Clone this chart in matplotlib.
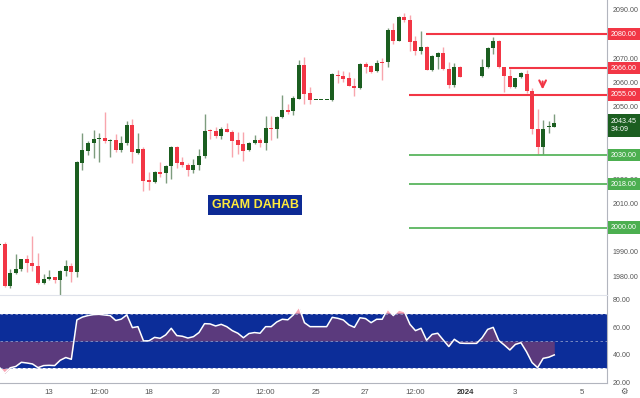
import numpy as np
import matplotlib
matplotlib.use("Agg")
import matplotlib.pyplot as plt
import matplotlib.transforms as mtransforms

plt.rcParams["font.family"] = ["Liberation Sans", "DejaVu Sans"]

# 4h candles
opens = [1993.0, 1993.3, 1976.1, 1981.2, 1982.9, 1987.1, 1985.6, 1984.2, 1977.3, 1978.7,
         1979.6, 1978.3, 1982.1, 1984.3, 1981.7, 2026.9, 2031.9, 2035.2, 2036.7, 2037.0,
         2036.0, 2036.3, 2032.1, 2035.2, 2042.5, 2031.0, 2032.4, 2019.8, 2019.1, 2022.9,
         2022.5, 2025.7, 2033.3, 2027.2, 2025.8, 2023.9, 2025.8, 2029.7, 2040.4, 2039.9,
         2038.1, 2041.0, 2039.7, 2036.3, 2034.6, 2032.1, 2035.2, 2036.3, 2035.2, 2041.4,
         2040.9, 2045.6, 2048.7, 2048.3, 2053.2, 2067.3, 2055.6, 2052.8, 2052.8, 2052.8,
         2052.7, 2063.1, 2062.7, 2061.9, 2058.7, 2057.6, 2067.7, 2066.8, 2064.8, 2068.4,
         2068.4, 2081.9, 2077.3, 2087.1, 2085.9, 2077.2, 2073.1, 2074.8, 2065.2, 2070.7,
         2072.1, 2065.6, 2059.0, 2066.6, 2062.6, 2062.6, 2062.6, 2062.6, 2066.3, 2074.2,
         2077.3, 2066.3, 2062.7, 2058.3, 2062.4, 2063.5, 2056.7, 2040.7, 2033.3, 2041.5,
         2041.8]
highs = [1993.5, 1994.1, 1982.9, 1989.0, 1987.1, 1988.8, 1996.6, 1989.5, 1980.9, 1982.6,
         1979.8, 1982.4, 1986.7, 1985.5, 2027.6, 2039.3, 2036.0, 2040.4, 2039.3, 2047.9,
         2036.5, 2038.6, 2037.7, 2044.1, 2044.8, 2039.0, 2033.5, 2023.2, 2023.3, 2027.2,
         2026.0, 2033.6, 2033.6, 2029.1, 2026.6, 2028.3, 2032.4, 2047.0, 2040.6, 2041.5,
         2041.5, 2043.4, 2040.4, 2039.5, 2039.7, 2035.6, 2038.3, 2037.1, 2046.2, 2046.2,
         2046.2, 2054.9, 2051.2, 2054.5, 2069.3, 2070.7, 2058.3, 2052.8, 2052.8, 2052.8,
         2064.1, 2065.2, 2064.9, 2064.5, 2061.8, 2067.9, 2068.3, 2067.3, 2069.3, 2070.3,
         2082.7, 2084.6, 2087.3, 2088.6, 2087.9, 2079.4, 2081.3, 2075.0, 2071.3, 2072.6,
         2074.8, 2068.6, 2068.2, 2066.8, 2062.6, 2062.6, 2062.6, 2069.8, 2074.6, 2079.0,
         2077.5, 2066.5, 2065.5, 2062.0, 2064.5, 2065.2, 2057.6, 2049.0, 2044.5, 2044.3,
         2047.0]
lows = [1993.0, 1975.7, 1975.2, 1981.0, 1982.3, 1981.9, 1982.3, 1976.6, 1976.8, 1978.3,
        1977.3, 1972.2, 1980.0, 1977.6, 1979.7, 2023.9, 2030.0, 2029.0, 2027.3, 2035.0,
        2029.1, 2031.4, 2031.4, 2034.2, 2026.9, 2030.5, 2015.3, 2015.5, 2018.6, 2021.1,
        2018.6, 2020.2, 2024.6, 2025.2, 2021.5, 2022.6, 2023.9, 2028.7, 2036.6, 2036.9,
        2036.6, 2039.5, 2029.4, 2030.5, 2027.5, 2031.8, 2034.7, 2033.5, 2032.1, 2036.3,
        2037.2, 2045.3, 2047.0, 2046.6, 2053.0, 2051.2, 2051.2, 2052.8, 2052.8, 2052.8,
        2052.4, 2060.0, 2060.4, 2058.6, 2054.5, 2057.2, 2063.8, 2064.1, 2064.4, 2061.1,
        2066.6, 2075.9, 2077.0, 2084.9, 2073.1, 2071.4, 2071.9, 2065.0, 2064.8, 2065.6,
        2065.3, 2057.9, 2058.3, 2062.2, 2062.6, 2062.6, 2062.6, 2062.1, 2066.0, 2071.8,
        2066.0, 2056.2, 2057.6, 2057.6, 2062.0, 2055.8, 2038.8, 2030.5, 2030.5, 2039.3,
        2041.5]
closes = [1993.3, 1976.1, 1981.2, 1982.9, 1987.1, 1985.6, 1984.0, 1977.3, 1978.7, 1979.6,
          1978.3, 1982.1, 1984.3, 1981.5, 2027.3, 2032.1, 2034.9, 2036.7, 2037.2, 2036.0,
          2036.3, 2032.1, 2034.9, 2042.5, 2031.3, 2032.4, 2019.5, 2019.1, 2022.9, 2022.3,
          2025.7, 2033.3, 2026.9, 2025.8, 2023.9, 2025.8, 2029.7, 2040.1, 2039.9, 2038.1,
          2041.0, 2039.6, 2036.0, 2034.3, 2031.6, 2034.9, 2036.3, 2035.2, 2041.4, 2040.9,
          2045.9, 2048.7, 2048.0, 2053.5, 2067.3, 2055.3, 2052.8, 2052.8, 2052.8, 2052.8,
          2063.4, 2062.7, 2061.6, 2058.7, 2057.6, 2067.7, 2066.4, 2064.5, 2068.0, 2068.0,
          2081.9, 2077.3, 2087.1, 2085.9, 2076.9, 2073.1, 2074.8, 2065.2, 2071.0, 2072.4,
          2065.6, 2059.0, 2066.6, 2062.4, 2062.6, 2062.6, 2062.6, 2066.6, 2074.2, 2077.3,
          2066.3, 2062.7, 2058.3, 2061.8, 2064.1, 2056.7, 2040.7, 2033.3, 2040.7, 2042.2,
          2043.45]
rsi = [31.0, 26.5, 30.5, 31.5, 34.5, 34.0, 33.3, 30.6, 32.1, 32.3,
       32.1, 36.0, 38.0, 36.7, 65.4, 67.5, 68.6, 69.3, 69.5, 69.0,
       68.6, 65.0, 66.0, 69.1, 59.8, 60.5, 50.1, 50.2, 52.7, 52.0,
       54.5, 59.3, 54.0, 53.5, 52.2, 53.2, 56.2, 62.7, 62.5, 61.0,
       62.2, 60.5, 57.6, 55.7, 52.4, 55.5, 56.2, 55.7, 60.5, 60.5,
       63.9, 65.9, 65.5, 69.1, 75.0, 63.4, 60.5, 60.5, 60.5, 60.5,
       67.3, 66.6, 65.4, 61.8, 60.0, 67.0, 66.4, 63.4, 65.9, 65.9,
       73.4, 68.6, 72.7, 71.5, 62.2, 57.6, 59.3, 50.6, 54.9, 55.7,
       50.8, 46.0, 51.3, 48.5, 48.3, 48.3, 48.3, 52.4, 58.5, 60.0,
       50.4, 47.1, 43.5, 47.6, 48.8, 42.2, 34.3, 30.6, 37.4, 38.2,
       39.9]
faint = [84, 85, 86]  # holiday bars drawn pale

res_levels = [2080, 2066, 2055]
res_start = [76.9, 91.9, 73.9]
sup_levels = [2030, 2018, 2000]
sup_start = 73.9
last_price = 2043.45
countdown = "34:09"

time_pos = [9, 18, 27, 39, 48, 57, 66, 75, 84, 93, 105]
time_labels = ["13", "12:00", "18", "20", "12:00", "25", "27", "12:00", "2024", "3", "5"]
price_ticks = [1980, 1990, 2010, 2020, 2050, 2060, 2070, 2090]

GREEN = "#1b5e20"
RED = "#f23645"
LGREEN = "#4caf50"
BLUE = "#0c2d99"
PURPLE = "#5b3a7d"
PINK = "#f7a6b4"
GREY = "#555555"
FS = 5.1

o = np.array(opens)
h = np.array(highs)
l = np.array(lows)
c = np.array(closes)
r = np.array(rsi)
x = np.arange(len(o))

fig = plt.figure(figsize=(6.4, 3.98), dpi=100)
ax = fig.add_axes([0, 1 - 295 / 398, 607 / 640, 295 / 398])
ax2 = fig.add_axes([0, 1 - 383 / 398, 607 / 640, 88 / 398], sharex=ax)

up = c >= o
cols = np.where(up, GREEN, RED)
wick_cols = np.where(up, "#7d9c7e", "#f8a5ad")
alphas = np.where(np.isin(x, faint), 0.25, 1.0)

ax.vlines(x, l, h, colors=wick_cols, linewidth=1, zorder=2)
body_lo = np.minimum(o, c)
body_h = np.maximum(np.abs(c - o), 0.3)
for i in x:
    ax.bar(i, body_h[i], bottom=body_lo[i], width=0.72, color=cols[i],
           alpha=alphas[i], linewidth=0, zorder=3)

# resistance / support levels
for lvl, st in zip(res_levels, res_start):
    ax.hlines(lvl, st, 200, color=RED, linewidth=1.5, zorder=4)
for lvl in sup_levels:
    ax.hlines(lvl, sup_start, 200, color=LGREEN, linewidth=1.2, zorder=4)

ax.annotate("", xy=(97.9, 2056.0), xytext=(97.9, 2061.6),
            arrowprops=dict(arrowstyle="->", color=RED, lw=1.5, mutation_scale=12))

ax.set_xlim(0.15, 109.5)
ax.set_ylim(1972.2, 2094.1)
ax.yaxis.tick_right()
ax.set_yticks(price_ticks)
ax.set_yticklabels(["%.2f" % v for v in price_ticks])
ax.tick_params(axis="y", length=0, pad=4, labelsize=FS, labelcolor=GREY)
ax.tick_params(axis="x", bottom=False, labelbottom=False)
for s in ["top", "left", "bottom"]:
    ax.spines[s].set_visible(False)
ax.spines["right"].set_color("#b2b5be")

tr = mtransforms.blended_transform_factory(ax.transAxes, ax.transData)
for lvl in res_levels:
    ax.text(1.0066, lvl, "%.2f" % lvl, transform=tr, fontsize=FS, color="white",
            va="center", ha="left", clip_on=False, zorder=6,
            bbox=dict(boxstyle="square,pad=0.4", fc=RED, ec="none"))
for lvl in sup_levels:
    ax.text(1.0066, lvl, "%.2f" % lvl, transform=tr, fontsize=FS, color="white",
            va="center", ha="left", clip_on=False, zorder=6,
            bbox=dict(boxstyle="square,pad=0.4", fc=LGREEN, ec="none"))
ax.text(1.0066, last_price - 1.2, "%.2f\n%s" % (last_price, countdown), transform=tr,
        fontsize=FS, color="white", va="center", ha="left", clip_on=False, zorder=6,
        linespacing=1.35, bbox=dict(boxstyle="square,pad=0.45", fc=GREEN, ec="none"))

fig.text(255 / 640, 1 - 205 / 398, "GRAM DAHAB", fontsize=9, fontweight="bold",
         color="#ffeb3b", ha="center", va="center",
         bbox=dict(boxstyle="square,pad=0.3", fc="#0d2a94", ec="none"))

# RSI pane
ax2.axhspan(30, 70, color=BLUE, zorder=0, linewidth=0)
ax2.fill_between(x, r, 50, color=PURPLE, linewidth=0, zorder=1)
ax2.fill_between(x, r, 70, where=r > 70, interpolate=True, color=PINK, linewidth=0, zorder=1)
ax2.fill_between(x, r, 30, where=r < 30, interpolate=True, color=PINK, linewidth=0, zorder=1)
for lvl in [70, 50, 30]:
    ax2.axhline(lvl, color="#8a98c8", linestyle=(0, (3, 3)), linewidth=0.6, zorder=2)
ax2.plot(x, r, color="white", linewidth=1.1, zorder=3)

ax2.set_ylim(19.4, 83.6)
ax2.yaxis.tick_right()
ax2.set_yticks([20, 40, 60, 80])
ax2.set_yticklabels(["20.00", "40.00", "60.00", "80.00"])
ax2.tick_params(axis="y", length=0, pad=4, labelsize=FS, labelcolor=GREY)
ax2.set_xticks(time_pos)
ax2.set_xticklabels(time_labels)
ax2.tick_params(axis="x", length=0, pad=4, labelsize=FS + 0.6, labelcolor=GREY)
for t in ax2.get_xticklabels():
    if t.get_text() == "2024":
        t.set_fontweight("bold")
        t.set_color("#333333")
ax2.spines["left"].set_visible(False)
ax2.spines["top"].set_color("#e0e3eb")
ax2.spines["right"].set_color("#b2b5be")
ax2.spines["bottom"].set_color("#b2b5be")

fig.text(624 / 640, 1 - 392 / 398, "\u2699", fontsize=6, color=GREY, ha="center", va="center")

fig.savefig("out.png", dpi=100)
